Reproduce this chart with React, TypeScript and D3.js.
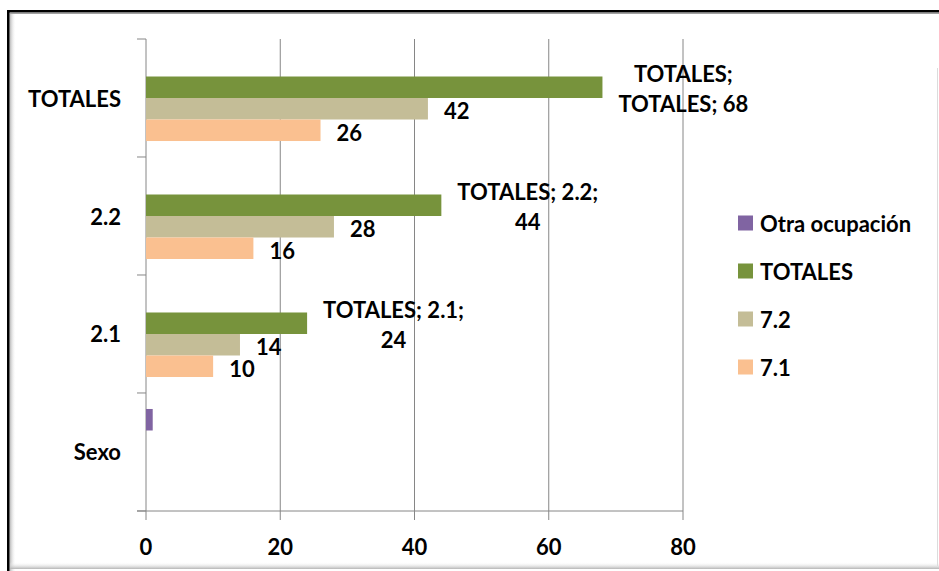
import React from "react";
import * as d3 from "d3";

const categories = ["Sexo", "2.1", "2.2", "TOTALES"];
const seriesNames = ["Otra ocupación", "TOTALES", "7.2", "7.1"];
const otraValues: (number | null)[] = [1, null, null, null];
const totalesValues: (number | null)[] = [null, 24, 44, 68];
const s72Values: (number | null)[] = [null, 14, 28, 42];
const s71Values: (number | null)[] = [null, 10, 16, 26];
const xTicks = [0, 20, 40, 60, 80];
const colors = ["#8064A2", "#77933C", "#C4BD97", "#FAC090"];

const W = 939;
const H = 571;
const FONT = "Lato, 'Open Sans', sans-serif";
const FS = 22;

function measure(text: string, size: number): number {
  const c = document.createElement("canvas");
  const ctx = c.getContext("2d");
  if (!ctx) return text.length * size * 0.55;
  ctx.font = `bold ${size}px Lato`;
  return ctx.measureText(text).width;
}

export default function App() {
  const seriesValues = [otraValues, totalesValues, s72Values, s71Values];
  const displayOrder = [...categories].reverse();
  const x = d3.scaleLinear().domain([0, 80]).range([146, 683]);
  const y = d3
    .scaleBand<string>()
    .domain(displayOrder)
    .range([39, 511])
    .paddingInner(0.271)
    .paddingOuter(0.1356);
  const inner = d3.scaleBand<string>().domain(seriesNames).range([0, y.bandwidth()]);
  const step = y.step();
  const boundaries = d3.range(displayOrder.length + 1).map((i) => 39 + i * step);
  const grid = "#868686";

  const bars: React.ReactNode[] = [];
  const labels: React.ReactNode[] = [];
  seriesNames.forEach((s, si) => {
    categories.forEach((cat, ci) => {
      const v = seriesValues[si][ci];
      if (v == null) return;
      const y0 = (y(cat) as number) + (inner(s) as number);
      const bh = inner.bandwidth();
      bars.push(
        <rect key={`b-${si}-${ci}`} x={x(0)} y={y0} width={x(v) - x(0)} height={bh} fill={colors[si]} />
      );
      const cy = y0 + bh / 2;
      const lx = x(v) + 16;
      if (s === "TOTALES") {
        const line1 = `TOTALES; ${cat};`;
        const line2 = `${v}`;
        const lines = cat === "TOTALES" ? ["TOTALES;", `TOTALES; ${v}`] : [line1, line2];
        const wmax = Math.max(...lines.map((l) => measure(l, FS)));
        const cx = lx + wmax / 2;
        labels.push(
          <g key={`l-${si}-${ci}`}>
            <text x={cx} y={cy - 14} textAnchor="middle" dominantBaseline="central">{lines[0]}</text>
            <text x={cx} y={cy + 16} textAnchor="middle" dominantBaseline="central">{lines[1]}</text>
          </g>
        );
      } else if (s !== "Otra ocupación") {
        labels.push(
          <text key={`l-${si}-${ci}`} x={lx} y={cy + 2} dominantBaseline="central">{v}</text>
        );
      }
    });
  });

  const legendY = [223, 271, 319, 367];

  return (
    <div style={{ position: "absolute", left: 0, top: 0 }}>
      <svg width={W} height={H} style={{ display: "block", fontFamily: FONT }}>
        <defs>
          <linearGradient id="shL" x1="0" x2="1" y1="0" y2="0">
            <stop offset="0" stopColor="#bdbdbd" />
            <stop offset="1" stopColor="#ffffff" stopOpacity="0" />
          </linearGradient>
          <linearGradient id="shB" x1="0" x2="0" y1="0" y2="1">
            <stop offset="0" stopColor="#ffffff" stopOpacity="0" />
            <stop offset="1" stopColor="#b5b5b5" />
          </linearGradient>
        </defs>
        <rect x={0} y={0} width={W} height={H} fill="#ffffff" />
        {/* frame */}
        <rect x={10} y={13} width={6} height={H - 13} fill="url(#shL)" />
        <rect x={10} y={562} width={W - 10} height={7} fill="url(#shB)" />
        <line x1={10} x2={W} y1={13.5} y2={13.5} stroke="#a0a0a0" strokeWidth={1} />
        <line x1={7} x2={W} y1={11.2} y2={11.2} stroke="#000" strokeWidth={2.6} />
        <line x1={8.3} x2={8.3} y1={10} y2={H} stroke="#000" strokeWidth={2.6} />
        <line x1={937.5} x2={937.5} y1={68} y2={566} stroke="#dcdcdc" strokeWidth={1} />

        {/* gridlines */}
        {xTicks.slice(1).map((t) => (
          <line key={`g-${t}`} x1={x(t)} x2={x(t)} y1={39} y2={511} stroke={grid} strokeWidth={1} />
        ))}
        {/* axes */}
        <line x1={x(0)} x2={x(0)} y1={39} y2={511} stroke={grid} strokeWidth={1} />
        <line x1={137} x2={x(80)} y1={511} y2={511} stroke={grid} strokeWidth={1} />
        {boundaries.map((b, i) => (
          <line key={`yt-${i}`} x1={137} x2={x(0)} y1={b} y2={b} stroke={grid} strokeWidth={1} />
        ))}
        {xTicks.map((t) => (
          <line key={`xt-${t}`} x1={x(t)} x2={x(t)} y1={511} y2={520} stroke={grid} strokeWidth={1} />
        ))}

        {bars}

        <g fontWeight="bold" fontSize={FS} fill="#000">
          {labels}
          {xTicks.map((t) => (
            <text key={`xl-${t}`} x={x(t)} y={546} textAnchor="middle" dominantBaseline="central">{t}</text>
          ))}
          {displayOrder.map((c) => (
            <text key={`yl-${c}`} x={121} y={(y(c) as number) + y.bandwidth() / 2} textAnchor="end" dominantBaseline="central">{c}</text>
          ))}
          {seriesNames.map((s, i) => (
            <g key={`lg-${s}`}>
              <rect x={738} y={legendY[i] - 7.5} width={15} height={15} fill={colors[i]} />
              <text x={760} y={legendY[i]} dominantBaseline="central">{s}</text>
            </g>
          ))}
        </g>
      </svg>
    </div>
  );
}
